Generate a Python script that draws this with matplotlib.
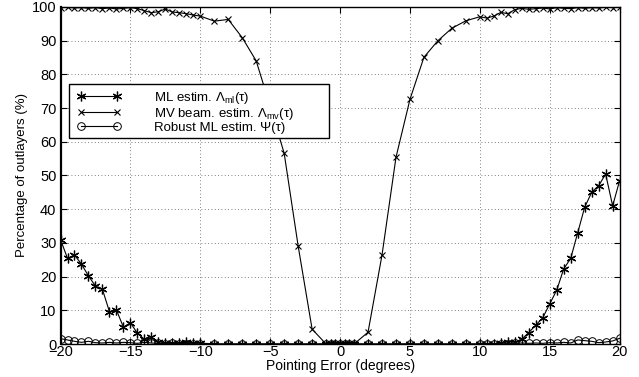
import numpy as np
import matplotlib
matplotlib.use("Agg")
import matplotlib.pyplot as plt
from matplotlib.patches import Rectangle

plt.rcParams['font.family'] = ['Liberation Sans', 'DejaVu Sans']
plt.rcParams['mathtext.fontset'] = 'custom'
plt.rcParams['mathtext.rm'] = 'Liberation Sans'
plt.rcParams['mathtext.it'] = 'Liberation Sans:italic'

# pointing error grid (degrees)
x_left = [-20, -19.5, -19, -18.5, -18, -17.5, -17, -16.5, -16, -15.5, -15,
          -14.5, -14, -13.5, -13, -12.5, -12, -11.5, -11, -10.5, -10]
x_mid_l = [-9, -8, -7, -6, -5, -4, -3, -2]
x_centre = [-1, -0.67, -0.33, 0, 0.33, 0.67, 1]
x_mid_r = [2, 3, 4, 5, 6, 7, 8, 9]
x_right = [10, 10.5, 11, 11.5, 12, 12.5, 13, 13.5, 14, 14.5, 15,
           15.5, 16, 16.5, 17, 17.5, 18, 18.5, 19, 19.5, 20]
pointing = x_left + x_mid_l + x_centre + x_mid_r + x_right

# ML estimator
ml = ([31, 25.4, 26.4, 23.7, 20.2, 17.2, 16.2, 9.6, 10.1, 5.0, 6.3,
       3.2, 1.4, 2.0, 0.7, 0.4, 0.3, 0.2, 0.5, 0.2, 0.3]
      + [0] * 8 + [0] * 7 + [0] * 8
      + [0, 0, 0.1, 0.2, 0.7, 0.5, 1.4, 3.4, 5.6, 7.8, 11.9,
         16.0, 22.3, 25.4, 33.0, 40.6, 45.0, 47.0, 50.4, 41.0, 48.5])

# MV beamformer estimator
mv = ([99.8, 99.9, 99.7, 99.8, 99.6, 99.8, 99.5, 99.7, 99.4, 99.6, 99.8,
       99.5, 98.9, 98.3, 98.6, 99.4, 98.5, 98.3, 98.0, 97.6, 97.3]
      + [95.8, 96.3, 90.9, 84.0, 70.5, 56.6, 29.1, 4.4]
      + [0] * 7
      + [3.5, 26.4, 55.4, 72.6, 85.1, 90.0, 93.7, 95.9]
      + [97.1, 96.7, 97.3, 98.4, 98.0, 99.2, 99.6, 99.3, 99.5, 99.7, 99.4,
         99.8, 99.6, 99.5, 99.8, 99.6, 99.8, 99.7, 99.9, 99.8, 99.9])

# robust ML estimator
robust = ([1.6, 1.2, 0.8, 0.5, 0.8, 0.4, 0.3, 0.5, 0.3, 0.5, 0.4,
           0.2, 0.5, 0.3, 0.2, 0.1, 0.2, 0.1, 0.1, 0, 0]
          + [0] * 8 + [0] * 7 + [0] * 8
          + [0, 0, 0, 0, 0.1, 0.2, 0.3, 0.2, 0.3, 0.2, 0.4,
             0.3, 0.5, 0.3, 1.2, 1.0, 0.8, 0.4, 0.6, 0.9, 1.7])

labels = [r'ML estim. $\Lambda_{\rm ml}$(τ)',
          r'MV beam. estim. $\Lambda_{\rm mv}$(τ)',
          r'Robust ML estim. Ψ(τ)']

fig = plt.figure(figsize=(6.39, 3.77), dpi=100)
ax = fig.add_axes([0.0947, 0.0875, 0.875, 0.894])

# asterisk marker like matlab '*'
ax.plot(pointing, ml, color='k', lw=0.8, marker=(6, 2, 0), ms=7, mew=0.9,
        label=labels[0])
ax.plot(pointing, mv, color='k', lw=0.8, marker='x', ms=4.5, mew=0.8,
        label=labels[1])
ax.plot(pointing, robust, color='k', lw=0.8, marker='o', ms=5.5, mew=0.7,
        mfc='none', label=labels[2])

ax.set_xlim(-20, 20)
ax.set_ylim(0, 100)
ax.set_xticks(np.arange(-20, 21, 5))
ax.set_yticks(np.arange(0, 101, 10))
ax.grid(True, color='0.35', linestyle=(0, (1, 3)), lw=0.6)
ax.tick_params(direction='in', length=4, width=0.8, top=True, right=True,
               labelsize=10.5, pad=3)
ax.tick_params(axis='x', pad=1)
for s in ax.spines.values():
    s.set_linewidth(1.0)
ax.spines['left'].set_linewidth(1.6)

ax.set_xlabel('Pointing Error (degrees)', fontsize=10, labelpad=0)
ax.set_ylabel('Percentage of outlayers (%)', fontsize=9.5, labelpad=3)

# white legend box like MATLAB
box = Rectangle((0.015, 0.611), 0.465, 0.161, transform=ax.transAxes,
                facecolor='white', edgecolor='k', lw=1.0, zorder=4)
ax.add_patch(box)
leg = ax.legend(loc='upper left', bbox_to_anchor=(0.022, 0.768), frameon=False,
                fontsize=9.5, handlelength=3.3, handletextpad=2.5, numpoints=2,
                labelspacing=0.0, borderpad=0.35, borderaxespad=0)
leg.set_zorder(5)

plt.savefig('out.png', dpi=100)
